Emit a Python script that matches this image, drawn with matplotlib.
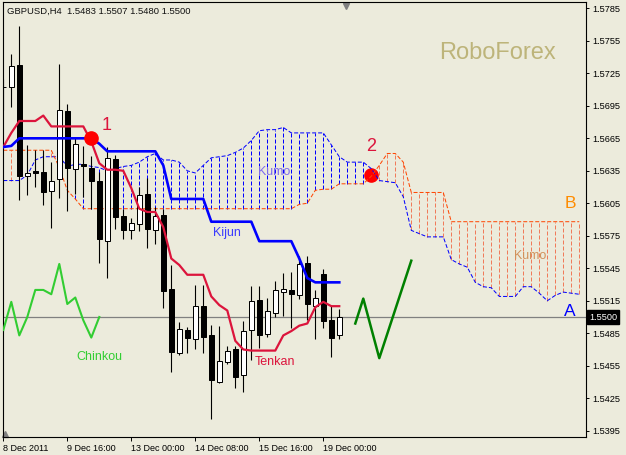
import numpy as np
import matplotlib.pyplot as plt
from matplotlib.transforms import blended_transform_factory

plt.rcParams['font.family'] = ['Liberation Sans', 'DejaVu Sans']

# GBPUSD H4, bar 0 = 8 Dec 2011 08:00
opens = [1.5712, 1.5712, 1.5733, 1.5630, 1.5635, 1.5634, 1.5616, 1.5627, 1.5690, 1.5637,
         1.5641, 1.5638, 1.5626, 1.5570, 1.5646, 1.5593, 1.5580, 1.5586, 1.5614, 1.5580,
         1.5594, 1.5526, 1.5467, 1.5488, 1.5480, 1.5510, 1.5483, 1.5440, 1.5458, 1.5470,
         1.5446, 1.5488, 1.5516, 1.5484, 1.5504, 1.5523, 1.5525, 1.5520, 1.5550, 1.5510,
         1.5540, 1.5497, 1.5483]
highs = [1.5720, 1.5743, 1.5769, 1.5659, 1.5654, 1.5654, 1.5643, 1.5734, 1.5697, 1.5666,
         1.5658, 1.5649, 1.5634, 1.5657, 1.5650, 1.5600, 1.5591, 1.5620, 1.5628, 1.5602,
         1.5600, 1.5548, 1.5495, 1.5491, 1.5530, 1.5530, 1.5493, 1.5492, 1.5473, 1.5473,
         1.5496, 1.5529, 1.5529, 1.5518, 1.5533, 1.5541, 1.5542, 1.5556, 1.5556, 1.5525,
         1.5544, 1.5510, 1.5507]
lows = [1.5691, 1.5694, 1.5608, 1.5613, 1.5620, 1.5603, 1.5582, 1.5610, 1.5598, 1.5614,
        1.5611, 1.5600, 1.5550, 1.5536, 1.5581, 1.5572, 1.5572, 1.5579, 1.5564, 1.5567,
        1.5508, 1.5449, 1.5465, 1.5467, 1.5470, 1.5467, 1.5406, 1.5439, 1.5457, 1.5434,
        1.5431, 1.5460, 1.5471, 1.5482, 1.5500, 1.5501, 1.5490, 1.5517, 1.5497, 1.5480,
        1.5490, 1.5463, 1.5480]
closes = [1.5712, 1.5732, 1.5630, 1.5633, 1.5633, 1.5615, 1.5626, 1.5691, 1.5638, 1.5660,
          1.5639, 1.5626, 1.5572, 1.5647, 1.5592, 1.5580, 1.5587, 1.5613, 1.5581, 1.5593,
          1.5524, 1.5468, 1.5489, 1.5481, 1.5510, 1.5482, 1.5442, 1.5459, 1.5469, 1.5445,
          1.5487, 1.5515, 1.5483, 1.5506, 1.5525, 1.5526, 1.5521, 1.5549, 1.5512, 1.5518,
          1.5496, 1.5481, 1.5500]

tenkan = [1.5657, 1.5670, 1.5681, 1.5681, 1.5681, 1.5686, 1.5676, 1.5676, 1.5676, 1.5676,
          1.5676, 1.5662, 1.5642, 1.5636, 1.5636, 1.5635, 1.5619, 1.5600, 1.5597, 1.5597,
          1.5583, 1.5554, 1.5548, 1.5539, 1.5539, 1.5539, 1.5519, 1.5511, 1.5506, 1.5478,
          1.5470, 1.5469, 1.5469, 1.5469, 1.5469, 1.5483, 1.5487, 1.5492, 1.5494, 1.5509,
          1.5514, 1.5510, 1.5510]
kijun = [1.5657, 1.5658, 1.5665, 1.5665, 1.5665, 1.5665, 1.5665, 1.5665, 1.5665, 1.5665,
         1.5665, 1.5665, 1.5660, 1.5653, 1.5653, 1.5653, 1.5653, 1.5653, 1.5653, 1.5653,
         1.5640, 1.5609, 1.5609, 1.5609, 1.5609, 1.5609, 1.5588, 1.5588, 1.5588, 1.5588,
         1.5588, 1.5588, 1.5570, 1.5570, 1.5570, 1.5570, 1.5570, 1.5554, 1.5536, 1.5532,
         1.5532, 1.5532, 1.5532]
chinkou = [1.5488, 1.5514, 1.5483, 1.5500, 1.5525, 1.5525, 1.5521, 1.5549, 1.5512, 1.5518,
           1.5497, 1.5481, 1.5500]

span_a = [1.5626, 1.5626, 1.5626, 1.5631, 1.5645, 1.5648, 1.5648, 1.5648, 1.5639, 1.5641,
          1.5641, 1.5639, 1.5638, 1.5635, 1.5637, 1.5639, 1.5640, 1.5643, 1.5648, 1.5651,
          1.5645, 1.5645, 1.5643, 1.5635, 1.5633, 1.5640, 1.5647, 1.5648, 1.5649, 1.5652,
          1.5656, 1.5663, 1.5672, 1.5673, 1.5673, 1.5675, 1.5670, 1.5670, 1.5670, 1.5670,
          1.5670, 1.5659, 1.5648, 1.5643, 1.5643, 1.5643, 1.5637, 1.5626, 1.5625, 1.5624,
          1.5611, 1.5580, 1.5577, 1.5574, 1.5574, 1.5574, 1.5553, 1.5549, 1.5546, 1.5532,
          1.5528, 1.5527, 1.5519, 1.5519, 1.5519, 1.5528, 1.5528, 1.5522, 1.5515, 1.5520,
          1.5523, 1.5522, 1.5521]
span_b = [1.5654, 1.5654, 1.5654, 1.5654, 1.5654, 1.5654, 1.5654, 1.5638, 1.5617, 1.5609,
          1.5600, 1.5600, 1.5600, 1.5600, 1.5600, 1.5600, 1.5600, 1.5600, 1.5600, 1.5600,
          1.5600, 1.5600, 1.5600, 1.5600, 1.5600, 1.5600, 1.5600, 1.5600, 1.5600, 1.5600,
          1.5600, 1.5600, 1.5600, 1.5600, 1.5600, 1.5600, 1.5600, 1.5604, 1.5605, 1.5617,
          1.5618, 1.5618, 1.5623, 1.5623, 1.5623, 1.5623, 1.5630, 1.5640, 1.5651, 1.5651,
          1.5643, 1.5615, 1.5615, 1.5615, 1.5615, 1.5615, 1.5588, 1.5588, 1.5588, 1.5588,
          1.5588, 1.5588, 1.5588, 1.5588, 1.5588, 1.5588, 1.5588, 1.5588, 1.5588, 1.5588,
          1.5588, 1.5588, 1.5588]

# hand drawn projection
forecast_idx = [44, 45, 47, 51]
forecast_val = [1.5494, 1.5517, 1.5462, 1.5552]

signal_idx = [11, 46]
signal_val = [1.5665, 1.5631]
signal_labels = ['1', '2']

date_ticks = [0, 8, 16, 24, 32, 40]
date_labels = ['8 Dec 2011', '9 Dec 16:00', '13 Dec 00:00', '14 Dec 08:00',
               '15 Dec 16:00', '19 Dec 00:00']
price_ticks = [1.5395, 1.5425, 1.5455, 1.5485, 1.5515, 1.5545, 1.5575,
               1.5605, 1.5635, 1.5665, 1.5695, 1.5725, 1.5755, 1.5785]

bg = '#ecebdc'
fig = plt.figure(figsize=(6.26, 4.55), dpi=100, facecolor=bg)
ax = fig.add_axes([2.7 / 626, 18 / 455, 583.3 / 626, 434.7 / 455], facecolor=bg)

dash = [(0, (4, 2))]

# kumo
xk = np.arange(len(span_a))
a = np.array(span_a)
b = np.array(span_b)
bull = a >= b
ax.vlines(xk[bull], b[bull], a[bull], colors='#0000ff', lw=0.72, linestyles=dash, zorder=1)
ax.vlines(xk[~bull], a[~bull], b[~bull], colors='#f07b5a', lw=0.72, linestyles=dash, zorder=1)
ax.plot(xk, a, color='#0000ff', lw=0.72, ls=dash[0], zorder=2)
ax.plot(xk, b, color='#ff4500', lw=0.72, ls=dash[0], zorder=2)

# current price line
ax.axhline(closes[-1], color='#808080', lw=0.9, zorder=1.5)

# candles
o = np.array(opens)
c = np.array(closes)
x = np.arange(len(c))
up = c >= o
ax.vlines(x, lows, highs, color='black', lw=0.8, zorder=3)
ax.bar(x, np.maximum(np.abs(c - o), 0.00002), bottom=np.minimum(o, c), width=0.6,
       color=np.where(up, 'white', 'black'), edgecolor='black', linewidth=0.72, zorder=3.1)

ax.plot(x, tenkan, color='#dc143c', lw=1.6, zorder=4)
ax.plot(x, kijun, color='#0000ff', lw=1.9, zorder=4)
ax.plot(np.arange(len(chinkou)), chinkou, color='#32cd32', lw=1.5, zorder=4)
ax.plot(forecast_idx, forecast_val, color='#008000', lw=1.8, zorder=4)

# signal dots
ax.plot(signal_idx[0], signal_val[0], 'o', color='red', ms=9.5, zorder=5)
ax.plot(signal_idx[1], signal_val[1], 'o', color='red', ms=9.5, zorder=1.8)
ax.text(12.9, 1.5677, signal_labels[0], color='#dc143c', fontsize=13, ha='center', va='center')
ax.text(45.96, 1.5657, signal_labels[1], color='#dc143c', fontsize=13, ha='center', va='center')

ax.text(61.8, 1.5744, 'RoboForex', color='#bdb47a', fontsize=17, ha='center', va='center')
ax.text(33.85, 1.5634, 'Kumo', color='#7b68ee', fontsize=9, ha='center', va='center')
ax.text(65.8, 1.5556, 'Kumo', color='#d2915a', fontsize=9, ha='center', va='center')
ax.text(27.9, 1.5578, 'Kijun', color='#3b3bff', fontsize=9, ha='center', va='center')
ax.text(33.9, 1.5458, 'Tenkan', color='#dc143c', fontsize=9, ha='center', va='center')
ax.text(11.96, 1.5463, 'Chinkou', color='#32cd32', fontsize=9, ha='center', va='center')
ax.text(70.85, 1.5505, 'A', color='#0000ff', fontsize=12.5, ha='center', va='center')
ax.text(70.85, 1.5605, 'B', color='#ff8c00', fontsize=12.5, ha='center', va='center')

ax.set_xlim(-0.075, 72.84)
ax.set_ylim(1.53892, 1.57906)

ax.yaxis.tick_right()
ax.set_yticks(price_ticks)
ax.set_yticklabels([f'{p:.4f}' for p in price_ticks])
ax.tick_params(axis='y', direction='out', length=2.5, width=0.7, labelsize=6.6, pad=2)
ax.set_xticks(date_ticks)
ax.set_xticklabels(date_labels, ha='left')
ax.tick_params(axis='x', direction='out', length=3, width=0.7, labelsize=6.5, pad=2)
for s in ax.spines.values():
    s.set_linewidth(0.8)

tr = blended_transform_factory(ax.transAxes, ax.transData)
ax.text(1.005, closes[-1], f'{closes[-1]:.4f}', transform=tr, ha='left', va='center',
        color='white', fontsize=6.6, clip_on=False, zorder=6,
        bbox=dict(boxstyle='square,pad=0.25', fc='black', ec='black'))

# little gray shift markers
ax.plot(0.5886, 0.992, marker='v', ms=5, color='#808080', transform=ax.transAxes, clip_on=False)
ax.plot(0.004, 0.006, marker='^', ms=4, color='#808080', transform=ax.transAxes, clip_on=False)

fig.text(7 / 626, 1 - 11 / 455,
         f'GBPUSD,H4  {opens[-1]:.4f} {highs[-1]:.4f} {lows[-1]:.4f} {closes[-1]:.4f}',
         fontsize=6.8, ha='left', va='center', color='#111111')

fig.savefig('out.png', dpi=100, facecolor=bg)
